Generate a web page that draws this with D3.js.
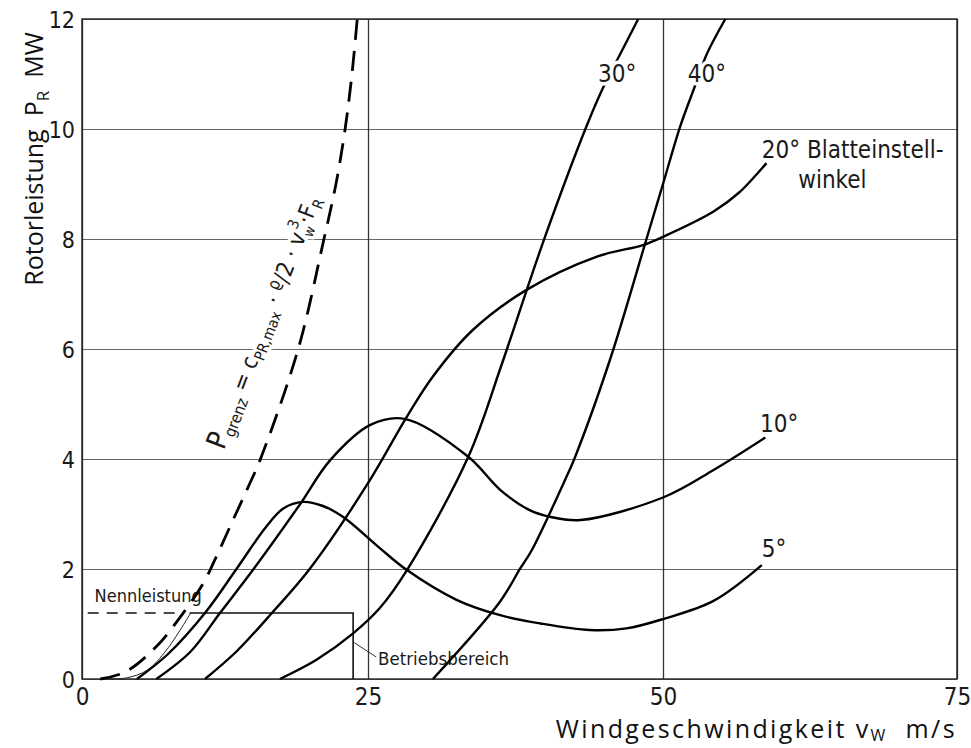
<!DOCTYPE html>
<html>
<head>
<meta charset="utf-8">
<script src="https://cdn.jsdelivr.net/npm/d3@7"></script>
<style>
  body { margin: 0; background: #fff; }
  svg { display: block; }
  .lbl { font-family: "Liberation Sans Narrow", "DejaVu Sans Condensed", sans-serif; fill: #1a1a1a; }
  .title { font-family: "Open Sans", sans-serif; fill: #111; white-space: pre; }
  .halo { paint-order: stroke; stroke: #fff; stroke-width: 7px; stroke-linejoin: round; }
</style>
</head>
<body>
<svg id="chart" width="971" height="748"></svg>
<script>
// axis ticks
const xTicks = [0, 25, 50, 75];
const yTicks = [0, 2, 4, 6, 8, 10, 12];

// P_grenz = cPR,max * rho/2 * v^3 * F_R (dashed limit)
const vGrenz = [1.6, 3.8, 6.5, 8.6, 10.6, 11.6, 13.2, 14.5, 15.6, 18.9, 21.15, 22.2, 23.0, 23.6, 24.06];
const pGrenz = [0, 0.13, 0.59, 1.13, 1.74, 2.16, 2.89, 3.48, 4.0, 6.0, 8.0, 9.0, 10.0, 11.0, 12.0];

// thin envelope up to rated power
const vThin = [2.4, 3.9, 5.7, 7.4, 9.5];
const pThin = [0, 0.02, 0.16, 0.53, 1.2];

// blade pitch angle curves
const v5 = [4.8, 7.5, 10.75, 13.5, 16.1, 17.6, 19.3, 21.0, 22.8, 26.0, 28.3, 32.5, 36.2, 39.6, 43.8, 46.9, 50, 54.3, 58.4];
const p5 = [0, 0.45, 1.2, 2.0, 2.77, 3.1, 3.22, 3.15, 2.95, 2.38, 1.98, 1.44, 1.16, 1.01, 0.89, 0.92, 1.09, 1.42, 2.07];

const v10 = [6.5, 9.5, 12.06, 15.0, 19.0, 21.7, 25.2, 28.1, 33.5, 36.2, 38.7, 40.4, 43.0, 50, 54.3, 58.7];
const p10 = [0, 0.5, 1.2, 2.0, 3.16, 3.98, 4.62, 4.73, 4.04, 3.44, 3.07, 2.95, 2.89, 3.3, 3.8, 4.39];

const v20 = [10.75, 13.5, 16.6, 19.9, 25.0, 28.3, 30.5, 33.9, 38.4, 44.4, 48.3, 50, 54.3, 56.5, 58.8];
const p20 = [0, 0.5, 1.2, 2.0, 3.56, 4.77, 5.5, 6.35, 7.07, 7.68, 7.89, 8.04, 8.5, 8.85, 9.38];

const v30 = [17.3, 20.5, 23.7, 26.0, 28.3, 33.5, 36.3, 38.45, 40.0, 43.5, 44.9, 46.2, 47.9];
const p30 = [0, 0.35, 0.83, 1.29, 1.98, 4.04, 5.7, 7.07, 8.04, 10.04, 10.74, 11.29, 12.0];

const v40 = [30.5, 36.2, 37.9, 38.9, 41.7, 42.5, 45.5, 48.6, 50, 51.45, 52.7, 53.7, 55.3];
const p40 = [0, 1.41, 2.01, 2.35, 3.62, 4.01, 5.8, 8.0, 9.0, 10.04, 10.77, 11.35, 12];

// rated power and operating range
const nennP = 1.2;
const nennDashV = [0.5, 8.8];
const betriebV = [9.4, 23.7];

const svg = d3.select("#chart");

// scales (grid in the original drawing is slightly uneven)
const x = d3.scaleLinear().domain([0, 25, 50, 75]).range([82, 368, 663, 957]);
const y = d3.scaleLinear().domain([0, 12]).range([679, 19]);

const plotW = x(75) - x(0);
const plotH = y(0) - y(12);

// horizontal grid + y labels
const yAxis = svg.append("g")
  .attr("transform", "translate(" + x(0) + ",0)")
  .call(d3.axisLeft(y).tickValues(yTicks).tickSize(-plotW).tickPadding(7));
yAxis.select(".domain").remove();
yAxis.selectAll("line").attr("stroke", "#666").attr("stroke-width", 1);
yAxis.selectAll("text").attr("class", "lbl").style("font-size", "23px").attr("dy", "0.36em");

// vertical grid + x labels
const xAxis = svg.append("g")
  .attr("transform", "translate(0," + y(0) + ")")
  .call(d3.axisBottom(x).tickValues(xTicks).tickSize(-plotH).tickPadding(9));
xAxis.select(".domain").remove();
xAxis.selectAll("line").attr("stroke", "#333").attr("stroke-width", 1.3);
xAxis.selectAll("text").attr("class", "lbl").style("font-size", "24px");

// frame
svg.append("rect")
  .attr("x", x(0)).attr("y", y(12))
  .attr("width", plotW).attr("height", plotH)
  .attr("fill", "none").attr("stroke", "#222").attr("stroke-width", 1.4);

// axis titles
const yt = svg.append("text")
  .attr("class", "title")
  .attr("transform", "translate(43,159) rotate(-90)")
  .attr("text-anchor", "middle")
  .style("font-size", "25px");
yt.append("tspan").text("Rotorleistung  P");
yt.append("tspan").attr("dy", 6).style("font-size", "17px").text("R");
yt.append("tspan").attr("dy", -6).text("  MW");

const xt = svg.append("text")
  .attr("class", "title")
  .attr("x", x(75)).attr("y", 738)
  .attr("text-anchor", "end")
  .style("font-size", "25px")
  .style("letter-spacing", "2.4px");
xt.append("tspan").text("Windgeschwindigkeit v");
xt.append("tspan").attr("dy", 3).style("font-size", "16px").text("W");
xt.append("tspan").attr("dy", -3).text("  m/s");

// formula along the dashed limit curve
const formula = svg.append("text")
  .attr("class", "lbl halo")
  .attr("transform", "translate(" + x(12.4) + "," + y(4.15) + ") rotate(-69)")
  .style("font-size", "23px");
formula.append("tspan").style("font-size", "28px").text("P");
formula.append("tspan").attr("dy", 5).style("font-size", "16px").text("grenz");
formula.append("tspan").attr("dy", -5).text(" = c");
formula.append("tspan").attr("dy", 5).style("font-size", "15px").text("PR,max");
formula.append("tspan").attr("dy", -5).text(" · ");
formula.append("tspan").attr("dy", -7).style("font-size", "17px").text("ϱ");
formula.append("tspan").attr("dy", 7).text("/2 · v");
formula.append("tspan").attr("dy", 6).style("font-size", "14px").text("w");
formula.append("tspan").attr("dx", -8).attr("dy", -17).style("font-size", "15px").text("3");
formula.append("tspan").attr("dy", 11).text("·F");
formula.append("tspan").attr("dy", 5).style("font-size", "15px").text("R");

// rated power line and operating range box
svg.append("line")
  .attr("x1", x(nennDashV[0])).attr("x2", x(nennDashV[1]))
  .attr("y1", y(nennP)).attr("y2", y(nennP))
  .attr("stroke", "#111").attr("stroke-width", 1.5)
  .attr("stroke-dasharray", "11,8");

svg.append("path")
  .attr("d", d3.line()([[x(betriebV[0]), y(nennP)], [x(betriebV[1]), y(nennP)], [x(betriebV[1]), y(0)]]))
  .attr("fill", "none").attr("stroke", "#111").attr("stroke-width", 1.6);

svg.append("line")
  .attr("x1", x(23.8)).attr("y1", y(0.66))
  .attr("x2", x(25.7)).attr("y2", y(0.4))
  .attr("stroke", "#333").attr("stroke-width", 1);

svg.append("text").attr("class", "lbl")
  .attr("x", x(1.1)).attr("y", y(1.4))
  .style("font-size", "18px").text("Nennleistung");

svg.append("text").attr("class", "lbl")
  .attr("x", x(25.85)).attr("y", y(0.25))
  .style("font-size", "18.5px").text("Betriebsbereich");

// curves
const line = d3.line()
  .x(d => x(d[0]))
  .y(d => y(d[1]))
  .curve(d3.curveCatmullRom.alpha(0.5));

svg.append("path")
  .attr("d", line(d3.zip(vThin, pThin)))
  .attr("fill", "none").attr("stroke", "#222").attr("stroke-width", 1);

const series = [[v5, p5], [v10, p10], [v20, p20], [v30, p30], [v40, p40]];
series.forEach(s => {
  svg.append("path")
    .attr("d", line(d3.zip(s[0], s[1])))
    .attr("fill", "none")
    .attr("stroke", "#000")
    .attr("stroke-width", 2.4);
});

svg.append("path")
  .attr("d", line(d3.zip(vGrenz, pGrenz)))
  .attr("fill", "none")
  .attr("stroke", "#000")
  .attr("stroke-width", 2.8)
  .attr("stroke-dasharray", "20,11");

// curve labels
const labels = [
  { t: "30°", v: 44.5, p: 10.85, halo: true },
  { t: "40°", v: 52.1, p: 10.85, halo: true },
  { t: "20° Blatteinstell-", v: 58.4, p: 9.47 },
  { t: "winkel", v: 61.5, p: 8.93 },
  { t: "10°", v: 58.25, p: 4.49 },
  { t: "5°", v: 58.4, p: 2.22 }
];
labels.forEach(d => {
  svg.append("text")
    .attr("class", d.halo ? "lbl halo" : "lbl")
    .attr("x", x(d.v)).attr("y", y(d.p))
    .style("font-size", "24px")
    .text(d.t);
});
</script>
</body>
</html>
